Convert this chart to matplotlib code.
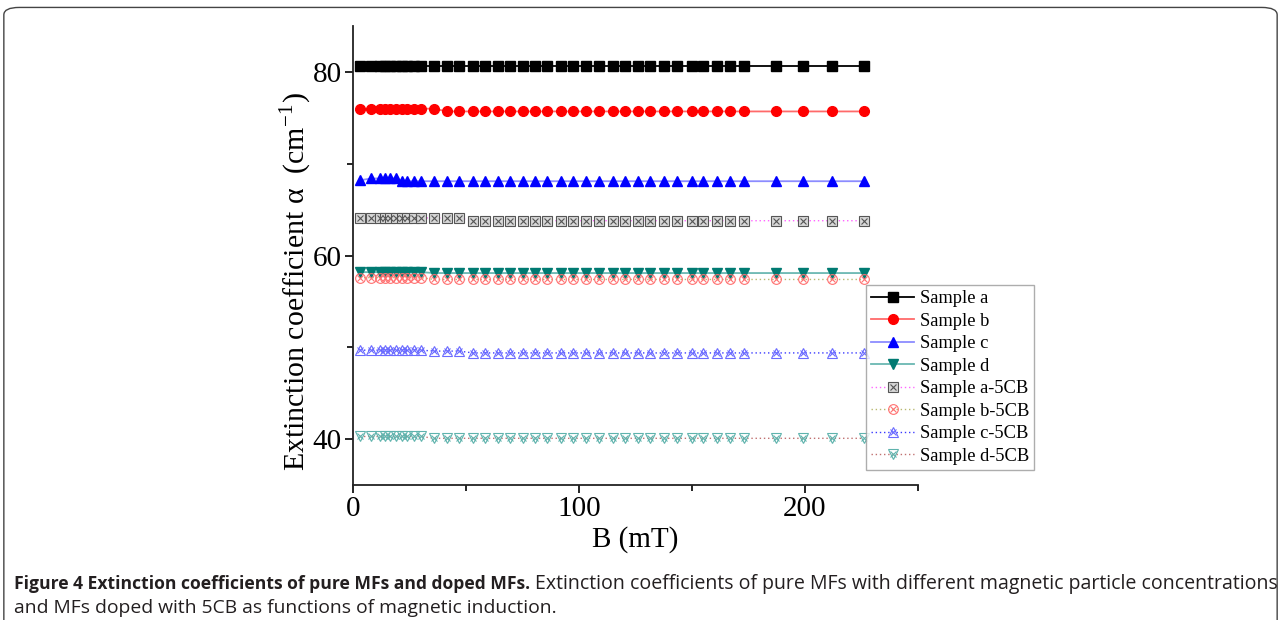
import matplotlib
matplotlib.use('Agg')
import matplotlib.pyplot as plt
from matplotlib.lines import Line2D
from matplotlib.legend_handler import HandlerTuple
from matplotlib.patches import FancyBboxPatch

# magnetic induction B (mT)
b_field = [3, 8, 12, 14, 16.5, 19, 21.5, 24, 27, 30, 36, 41.5, 47, 53, 58.5, 64, 69.5, 75,
           80.5, 86, 92, 97.5, 103, 109, 115, 120.5, 126, 131.5, 137.5, 143.5, 150, 155,
           161, 167, 173, 187, 199, 212, 226]
n = len(b_field)

# extinction coefficients (cm^-1)
sample_a = [80.6] * n
sample_b = [76.0] * 11 + [75.7] * (n - 11)
sample_c = [68.2] + [68.4] * 5 + [68.1] * (n - 6)
sample_d = [58.2] * 10 + [58.1] * (n - 10)
sample_a_5cb = [64.1] * 13 + [63.8] * (n - 13)
sample_b_5cb = [57.6] * 10 + [57.4] * (n - 10)
sample_c_5cb = [49.7] * 10 + [49.6] * 3 + [49.4] * (n - 13)
sample_d_5cb = [40.3] * 10 + [40.1] * (n - 10)

labels = ['Sample a', 'Sample b', 'Sample c', 'Sample d',
          'Sample a-5CB', 'Sample b-5CB', 'Sample c-5CB', 'Sample d-5CB']

plt.rcParams['font.family'] = ['Liberation Serif', 'DejaVu Serif']
plt.rcParams['mathtext.fontset'] = 'stix'

fig = plt.figure(figsize=(12.81, 6.20), dpi=100)
ax = fig.add_axes([0.2756, 0.2175, 0.441, 0.7405])

# pure MFs: solid lines, filled markers
solid = [
    (sample_a, 's', 'black', 'black', 6.5),
    (sample_b, 'o', '#ff0000', '#ff6a6a', 7.0),
    (sample_c, '^', '#0000ff', '#8c8cff', 7.5),
    (sample_d, 'v', '#007a72', '#6ab8b2', 7.5),
]
handles = []
for vals, mk, mc, lc, ms in solid:
    ax.plot(b_field, vals, color=lc, lw=1.3, zorder=2)
    ax.plot(b_field, vals, ls='none', marker=mk, ms=ms, color=mc, mec=mc, zorder=3)
    handles.append(Line2D([], [], color=lc, lw=1.3, marker=mk, ms=ms, mfc=mc, mec=mc))

# MFs doped with 5CB: dotted lines, hatched-looking markers
doped = [
    (sample_a_5cb, 's', '#555555', '#ff66ff', '#d8d8d8'),
    (sample_b_5cb, 'o', '#ff7070', '#b8b870', 'none'),
    (sample_c_5cb, '^', '#6a6aff', '#3a3aff', 'none'),
    (sample_d_5cb, 'v', '#5fb3ad', '#c07070', 'none'),
]
for vals, mk, mc, lc, fc in doped:
    ax.plot(b_field, vals, color=lc, lw=1.0, ls=(0, (1, 2)), zorder=2)
    ax.plot(b_field, vals, ls='none', marker=mk, ms=7, mfc=fc, mec=mc, mew=0.8, zorder=3)
    ax.plot(b_field, vals, ls='none', marker='x', ms=5, mec=mc, mew=0.8, zorder=3)
    h1 = Line2D([], [], color=lc, lw=1.0, ls=(0, (1, 2)), marker=mk, ms=7,
                mfc=fc, mec=mc, mew=0.8)
    h2 = Line2D([], [], ls='none', marker='x', ms=5, mec=mc, mew=0.8)
    handles.append((h1, h2))

ax.set_xlim(0, 250)
ax.set_ylim(35, 85)
ax.set_xticks([0, 100, 200])
ax.set_xticks([50, 150, 250], minor=True)
ax.set_yticks([40, 60, 80])
ax.set_yticks([50, 70], minor=True)
for s in ['top', 'right']:
    ax.spines[s].set_visible(False)
for s in ['left', 'bottom']:
    ax.spines[s].set_linewidth(1.3)
    ax.spines[s].set_color('#222222')
ax.tick_params(which='major', direction='out', length=6, width=1.2, labelsize=21, pad=2)
ax.tick_params(which='minor', direction='out', length=4, width=1.2)

ax.set_xlabel('B (mT)', fontsize=21, labelpad=3)
ax.set_ylabel('Extinction coefficient α  (cm$^{\\mathregular{-1}}$)', fontsize=21.5)
ax.yaxis.set_label_coords(-0.07, 0.443)

leg = ax.legend(handles, labels, loc='upper left', bbox_to_anchor=(0.676, 0.541),
                bbox_transform=fig.transFigure, fontsize=13.3, frameon=True, fancybox=False,
                handlelength=2.3, handletextpad=0.3, labelspacing=0.3, borderpad=0.3,
                borderaxespad=0, handler_map={tuple: HandlerTuple(ndivide=1, pad=0)})
leg.get_frame().set_edgecolor('#999999')
leg.get_frame().set_linewidth(1.0)

# rounded border round the figure
fig.patches.append(FancyBboxPatch((0.003, -0.02), 0.994, 1.008,
                                  boxstyle='round,pad=0,rounding_size=0.012',
                                  transform=fig.transFigure, fill=False,
                                  edgecolor='#444444', lw=1.0))

# caption: bold title then regular text
cap_font = ['Open Sans', 'DejaVu Sans']
t1 = fig.text(0.011, 0.05, 'Figure 4 Extinction coefficients of pure MFs and doped MFs.',
              fontsize=12.6, fontweight='bold', family=cap_font, color='#231f20')
fig.canvas.draw()
bb = t1.get_window_extent()
fig.text((bb.x1 + 5) / fig.bbox.width, 0.05,
         'Extinction coefficients of pure MFs with different magnetic particle concentrations',
         fontsize=14.05, family=cap_font, color='#231f20')
fig.text(0.011, 0.011, 'and MFs doped with 5CB as functions of magnetic induction.',
         fontsize=13.9, family=cap_font, color='#231f20')

fig.savefig('out.png', dpi=100)
